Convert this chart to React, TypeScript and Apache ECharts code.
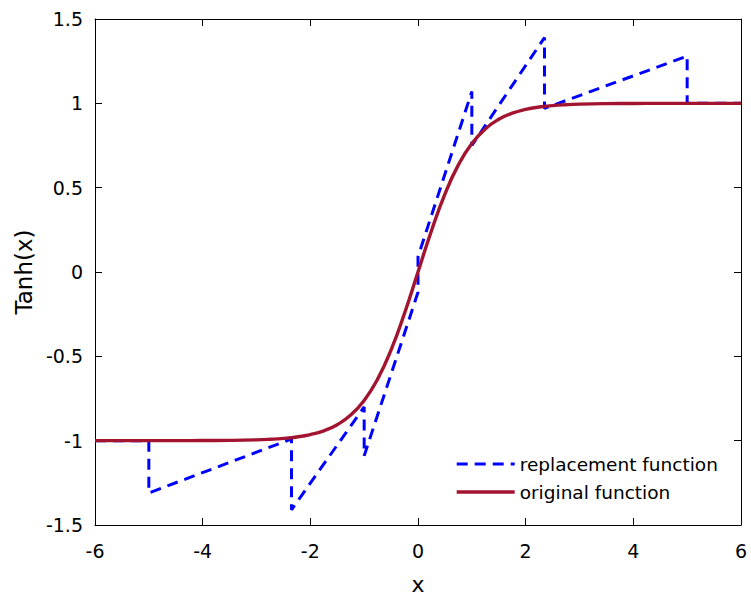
import React, { useEffect, useRef } from "react";
import * as echarts from "echarts";

// x ticks and y ticks
const xTicks = [-6, -4, -2, 0, 2, 4, 6];
const yTicks = [-1.5, -1, -0.5, 0, 0.5, 1, 1.5];

// replacement function (piecewise linear)
const replacementX = [-6, -5, -5, -2.35, -2.35, -1, -1, 0, 0, 1, 1, 2.35, 2.35, 5, 5, 6];
const replacementY = [-1, -1, -1.31, -0.99, -1.41, -0.8, -1.09, -0.12, 0.09, 1.07, 0.75, 1.39, 0.97, 1.28, 1.0, 1.0];

// original function tanh(x)
const originalX = [
  -6, -5.5, -5, -4.5, -4, -3.5, -3, -2.75, -2.5, -2.25, -2, -1.75, -1.5, -1.25, -1, -0.75, -0.5, -0.25,
  0, 0.25, 0.5, 0.75, 1, 1.25, 1.5, 1.75, 2, 2.25, 2.5, 2.75, 3, 3.5, 4, 4.5, 5, 5.5, 6,
];
const originalY = [
  -1.0, -1.0, -0.9999, -0.9998, -0.9993, -0.9982, -0.9951, -0.9918, -0.9866, -0.978, -0.964, -0.9414,
  -0.9051, -0.8483, -0.7616, -0.6351, -0.4621, -0.2449, 0, 0.2449, 0.4621, 0.6351, 0.7616, 0.8483,
  0.9051, 0.9414, 0.964, 0.978, 0.9866, 0.9918, 0.9951, 0.9982, 0.9993, 0.9998, 0.9999, 1.0, 1.0,
];

const FONT = "DejaVu Sans";

export default function App() {
  const ref = useRef<HTMLDivElement>(null);
  useEffect(() => {
    if (!ref.current) return;
    const chart = echarts.init(ref.current, undefined, { renderer: "svg" });
    const xMin = xTicks[0];
    const xMax = xTicks[xTicks.length - 1];
    const xInt = xTicks[1] - xTicks[0];
    const yMin = yTicks[0];
    const yMax = yTicks[yTicks.length - 1];
    const yInt = yTicks[1] - yTicks[0];
    const axisCommon = {
      axisLine: { show: true, onZero: false, lineStyle: { color: "#000", width: 1 } },
      axisTick: { show: true, inside: true, length: 7, lineStyle: { color: "#000", width: 1 } },
      splitLine: { show: false },
    };
    chart.setOption({
      animation: false,
      backgroundColor: "#fff",
      grid: { left: 95, right: 10, top: 19, bottom: 76 },
      legend: {
        orient: "vertical",
        left: 450,
        top: 449,
        itemWidth: 58,
        itemHeight: 14,
        itemGap: 8,
        itemStyle: { color: "rgba(0,0,0,0)", borderWidth: 0, opacity: 0 },
        lineStyle: { width: "inherit" },
        textStyle: { fontFamily: FONT, fontSize: 18.5, color: "#000", lineHeight: 20 },
        data: ["replacement function", "original function"],
      },
      xAxis: [
        {
          type: "value",
          min: xMin,
          max: xMax,
          interval: xInt,
          name: "x",
          nameLocation: "middle",
          nameGap: 48,
          nameTextStyle: { fontFamily: FONT, fontSize: 22, color: "#000" },
          axisLabel: { fontFamily: FONT, fontSize: 19, color: "#000", margin: 16, showMaxLabel: true, showMinLabel: true },
          ...axisCommon,
        },
        {
          type: "value",
          position: "top",
          min: xMin,
          max: xMax,
          interval: xInt,
          axisLabel: { show: false },
          ...axisCommon,
        },
      ],
      yAxis: [
        {
          type: "value",
          min: yMin,
          max: yMax,
          interval: yInt,
          name: "Tanh(x)",
          nameLocation: "middle",
          nameRotate: 90,
          nameGap: 55,
          nameTextStyle: { fontFamily: FONT, fontSize: 23, color: "#000" },
          axisLabel: { fontFamily: FONT, fontSize: 19, color: "#000", margin: 12 },
          ...axisCommon,
        },
        {
          type: "value",
          position: "right",
          min: yMin,
          max: yMax,
          interval: yInt,
          axisLabel: { show: false },
          ...axisCommon,
        },
      ],
      series: [
        {
          name: "replacement function",
          type: "line",
          symbol: "none",
          data: replacementX.map((x, i) => [x, replacementY[i]]),
          lineStyle: { color: "#0000FF", width: 3, type: [11, 7] },
          itemStyle: { color: "#0000FF" },
          z: 2,
        },
        {
          name: "original function",
          type: "line",
          symbol: "none",
          smooth: 0.5,
          data: originalX.map((x, i) => [x, originalY[i]]),
          lineStyle: { color: "#A2142F", width: 3.4 },
          itemStyle: { color: "#A2142F" },
          z: 3,
        },
      ],
    });
    return () => chart.dispose();
  }, []);
  return (
    <div
      ref={ref}
      style={{ position: "absolute", left: 0, top: 0, width: 751, height: 601 }}
    />
  );
}
